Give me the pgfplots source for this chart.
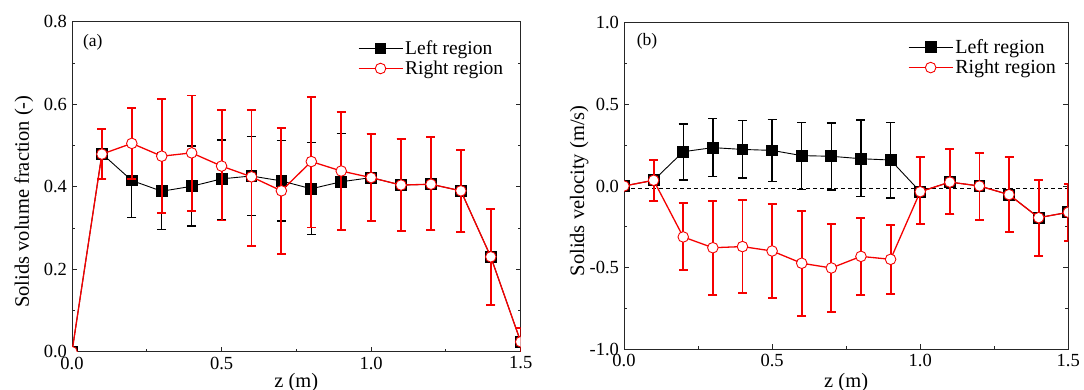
\documentclass[border=0pt]{standalone}
\usepackage{fontspec}
\setmainfont{Liberation Serif}
\usepackage{pgfplots}
\usepackage{pgfplotstable}
\pgfplotsset{compat=1.18}
\definecolor{myred}{RGB}{245,0,0}

% x y ep em
\pgfplotstableread{
x y ep em
0.0 0.000 0.000 0.000
0.1 0.480 0.060 0.060
0.2 0.415 0.088 0.089
0.3 0.389 0.093 0.092
0.4 0.401 0.098 0.096
0.5 0.419 0.094 0.100
0.6 0.426 0.095 0.095
0.7 0.414 0.098 0.097
0.8 0.395 0.112 0.111
0.9 0.412 0.117 0.115
1.0 0.422 0.106 0.105
1.1 0.404 0.112 0.111
1.2 0.406 0.114 0.111
1.3 0.390 0.099 0.100
1.4 0.230 0.116 0.116
1.5 0.024 0.034 0.034
}\fracleft
\pgfplotstableread{
x y ep em
0.0 0.000 0.000 0.000
0.1 0.479 0.061 0.061
0.2 0.505 0.085 0.087
0.3 0.474 0.139 0.137
0.4 0.482 0.139 0.140
0.5 0.450 0.135 0.132
0.6 0.424 0.162 0.167
0.7 0.390 0.153 0.154
0.8 0.461 0.157 0.160
0.9 0.438 0.143 0.143
1.0 0.422 0.106 0.105
1.1 0.404 0.112 0.111
1.2 0.406 0.114 0.111
1.3 0.390 0.099 0.100
1.4 0.230 0.116 0.116
1.5 0.024 0.034 0.034
}\fracright
\pgfplotstableread{
x y ep em
0.0 0.000 0.000 0.000
0.1 0.035 0.126 0.127
0.2 0.210 0.170 0.173
0.3 0.235 0.179 0.178
0.4 0.224 0.176 0.175
0.5 0.218 0.190 0.189
0.6 0.186 0.202 0.206
0.7 0.182 0.204 0.206
0.8 0.167 0.237 0.232
0.9 0.159 0.229 0.232
1.0 -0.035 0.211 0.200
1.1 0.024 0.203 0.197
1.2 0.000 0.202 0.208
1.3 -0.053 0.229 0.227
1.4 -0.194 0.231 0.233
1.5 -0.161 0.171 0.174
}\velleft
\pgfplotstableread{
x y ep em
0.0 0.000 0.000 0.000
0.1 0.035 0.126 0.127
0.2 -0.312 0.206 0.202
0.3 -0.378 0.288 0.289
0.4 -0.371 0.285 0.286
0.5 -0.398 0.288 0.290
0.6 -0.473 0.322 0.321
0.7 -0.502 0.267 0.267
0.8 -0.431 0.235 0.234
0.9 -0.449 0.212 0.214
1.0 -0.035 0.211 0.200
1.1 0.024 0.203 0.197
1.2 0.000 0.202 0.208
1.3 -0.053 0.229 0.227
1.4 -0.194 0.231 0.233
1.5 -0.161 0.171 0.174
}\velright

\pgfplotsset{
  common/.style={
    scale only axis,
    anchor=south west,
    clip marker paths=true,
    axis line style={line width=0.9pt, black!85},
    tick style={line width=0.9pt, black!85},
    tick align=inside,
    xtick pos=bottom,
    major tick length=5pt,
    minor tick length=3pt,
    xmin=0, xmax=1.5,
    xtick={0,0.5,1,1.5},
    minor x tick num=1,
    /pgf/number format/assume math mode=true,
    /pgf/number format/fixed,
    /pgf/number format/fixed zerofill,
    /pgf/number format/precision=1,
    ticklabel style={font=\fontsize{18.5}{18.5}\selectfont},
    xticklabel style={yshift=-1.5pt},
    yticklabel style={xshift=-1.5pt},
    label style={font=\fontsize{20.5}{22}\selectfont},
    xlabel={z (m)},
    legend style={draw=none, fill=none, anchor=north west,
      font=\fontsize{19.5}{19.5}\selectfont, row sep=1pt,
      nodes={inner sep=2pt}},
    legend cell align=left,
    legend image code/.code={
      \draw[mark repeat=2,mark phase=2,##1] plot coordinates {(0pt,0pt) (22pt,0pt) (44pt,0pt)};
    },
  },
  blackser/.style={black, line width=0.9pt, mark=square*, mark size=5.4pt,
    mark options={solid, fill=black},
    error bars/.cd, y dir=both, y explicit,
    error bar style={line width=1.3pt, black},
    error mark options={rotate=90, line width=1.3pt, mark size=4.5pt, black}},
  redser/.style={myred, line width=1.3pt, mark=*, mark size=5.3pt,
    mark options={solid, fill=white, draw=myred, line width=0.9pt},
    error bars/.cd, y dir=both, y explicit,
    error bar style={line width=1.9pt, myred},
    error mark options={rotate=90, line width=1.9pt, mark size=4.5pt, myred}},
}

\begin{document}
\begin{tikzpicture}
\useasboundingbox (0,0) rectangle (1084pt,389pt);
\clip (0,0) rectangle (1084pt,389pt);

\begin{axis}[common,
  at={(72pt,37.3pt)},
  width=448.7pt, height=330pt,
  ymin=0, ymax=0.8,
  ytick={0,0.2,0.4,0.6,0.8},
  minor y tick num=1,
  ylabel={Solids volume fraction (-)},
  ylabel style={at={(axis description cs:-0.096,0.455)}, anchor=base},
  xlabel style={at={(axis description cs:0.5,-0.108)}, anchor=base},
  legend style={at={(0.63,0.955)}},
]
\addplot[blackser] table[x=x, y=y, y error plus=ep, y error minus=em] {\fracleft};
\addlegendentry{Left region}
\addplot[redser] table[x=x, y=y, y error plus=ep, y error minus=em] {\fracright};
\addlegendentry{Right region}
\node[anchor=west, font=\fontsize{17.5}{17.5}\selectfont, inner sep=1pt] at (rel axis cs:0.022,0.938) {(a)};
\end{axis}

\begin{axis}[common,
  at={(624pt,39.7pt)},
  width=444.3pt, height=326.6pt,
  ymin=-1, ymax=1,
  ytick={-1,-0.5,0,0.5,1},
  minor y tick num=1,
  ylabel={Solids velocity (m/s)},
  ylabel style={at={(axis description cs:-0.090,0.485)}, anchor=base},
  xlabel style={at={(axis description cs:0.5,-0.116)}, anchor=base},
  legend style={at={(0.632,0.962)}, font=\fontsize{20}{20}\selectfont},
]
\addplot[black, dashed, line width=0.9pt, dash pattern=on 4pt off 3pt, forget plot] coordinates {(0,-0.015) (1.5,-0.015)};
\addplot[blackser] table[x=x, y=y, y error plus=ep, y error minus=em] {\velleft};
\addlegendentry{Left region}
\addplot[redser] table[x=x, y=y, y error plus=ep, y error minus=em] {\velright};
\addlegendentry{Right region}
\node[anchor=west, font=\fontsize{17.5}{17.5}\selectfont, inner sep=1pt] at (rel axis cs:0.026,0.942) {(b)};
\end{axis}
\end{tikzpicture}
\end{document}
